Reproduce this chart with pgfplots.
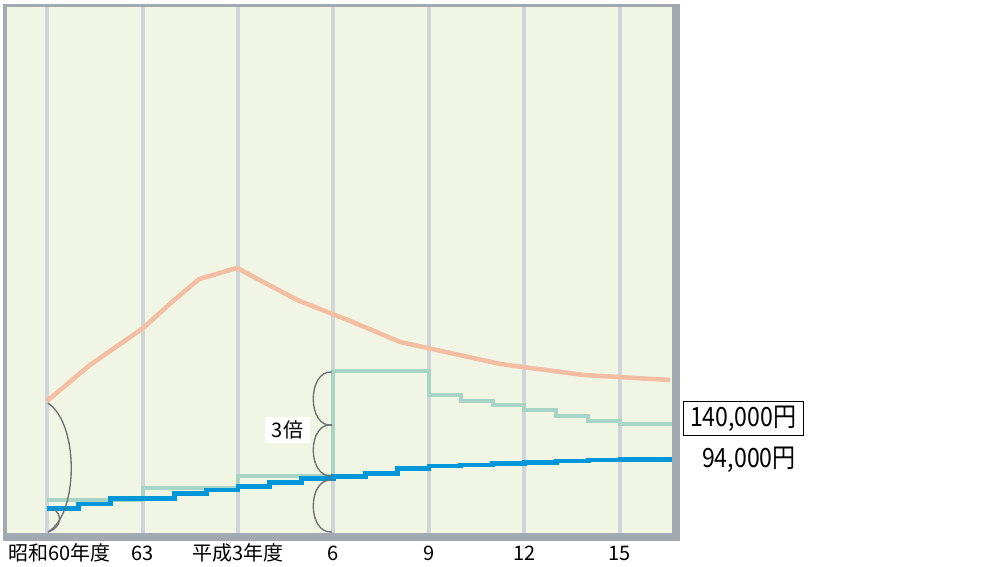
\documentclass[border=0pt]{standalone}
\usepackage{fontspec}
\setmainfont{Noto Sans CJK JP}
\usepackage{pgfplots}
\pgfplotsset{compat=1.18}
\definecolor{bgc}{HTML}{F1F5E4}
\definecolor{framec}{HTML}{A2A9B0}
\definecolor{gridc}{HTML}{D0D5DB}
\definecolor{bluec}{HTML}{0096DA}
\definecolor{tealc}{HTML}{A7D4C4}
\definecolor{orangec}{HTML}{F3BEA2}
\definecolor{arcc}{HTML}{6B7175}
\newcommand{\smallf}{\fontsize{15pt}{17pt}\selectfont}
\newcommand{\bigf}{\fontsize{19.9pt}{22pt}\selectfont\addfontfeature{FakeStretch=0.87}}
\begin{document}
\begin{tikzpicture}
\useasboundingbox (0,0) rectangle (737.25pt,425.25pt);
\begin{scope}[x=0.75pt,y=-0.75pt,shift={(0pt,425.25pt)}]
\fill[framec] (3,4) rectangle (680,541);
\end{scope}
\begin{axis}[at={(5.25pt,25.5pt)}, anchor=south west, scale only axis,
  width=498.75pt, height=394.5pt,
  xmin=-1.257, xmax=19.635, ymin=-2628, ymax=688536,
  axis background/.style={fill=bgc},
  axis line style={draw=none},
  xtick={0,3,6,9,12,15,18},
  xticklabels={{},63,平成3年度,6,9,12,15},
  ytick=\empty,
  major tick length=0pt,
  xmajorgrids, grid style={line width=3pt, gridc},
  xticklabel style={font=\smallf, anchor=base, yshift=-21pt, inner sep=0pt},
  clip=false,
]
\addplot[const plot, tealc, line width=3pt] coordinates {
(0,40700) (3,56900) (6,72300) (9,210200) (12,178700) (13,170800) (14,165600)
(15,159000) (16,151500) (17,144900) (18,140000) (19.635,140000)};
\addplot[const plot, bluec, line width=3.6pt] coordinates {
(0,29800) (1,35500) (2,43000) (4,49500) (5,53900) (6,58200) (7,63500) (8,68700)
(9,71600) (10,75800) (11,82400) (12,85400) (13,86700) (14,89000) (15,90300)
(16,92000) (17,93300) (18,94000) (19.635,94000)};
\addplot[sharp plot, orangec, line width=3.4pt, line join=round] coordinates {
(0,170800) (1.35,218100) (3.02,266700) (3.96,302200) (4.78,331100) (5.97,345600)
(7.86,303500) (9.53,275900) (11.1,248300) (14.25,219400) (16.86,205000) (19.57,198400)};
\end{axis}
\begin{scope}[x=0.75pt,y=-0.75pt,shift={(0pt,425.25pt)}]
% braces on the left
\draw[arcc, line width=1pt] (48,403) .. controls (80,425) and (78,515) .. (48,532);
\draw[arcc, line width=1pt] (53,509) .. controls (62,513) and (63,527) .. (48,532);
% braces at H6
\draw[arcc, line width=1pt] (332,372) .. controls (307,370) and (307,428) .. (332,425);
\draw[arcc, line width=1pt] (332,425) .. controls (307,422) and (307,478) .. (332,476);
\draw[arcc, line width=1pt] (332,480) .. controls (307,478) and (307,534) .. (332,532);
\node[fill=white, inner sep=0pt, minimum width=33.75pt, minimum height=19.5pt, font=\smallf] at (287.5,429.7) {3倍};
% first tick label
\node[anchor=base west, inner sep=0pt, font=\smallf] at (8,561) {昭和60年度};
% right labels
\node[draw=black, line width=0.8pt, fill=white, inner sep=0pt, minimum width=90pt, minimum height=25.5pt, font=\bigf] at (743.3,418.7) {140,000円};
\node[anchor=base east, inner sep=0pt, font=\bigf] at (796,467.7) {94,000円};
\end{scope}
\end{tikzpicture}
\end{document}
